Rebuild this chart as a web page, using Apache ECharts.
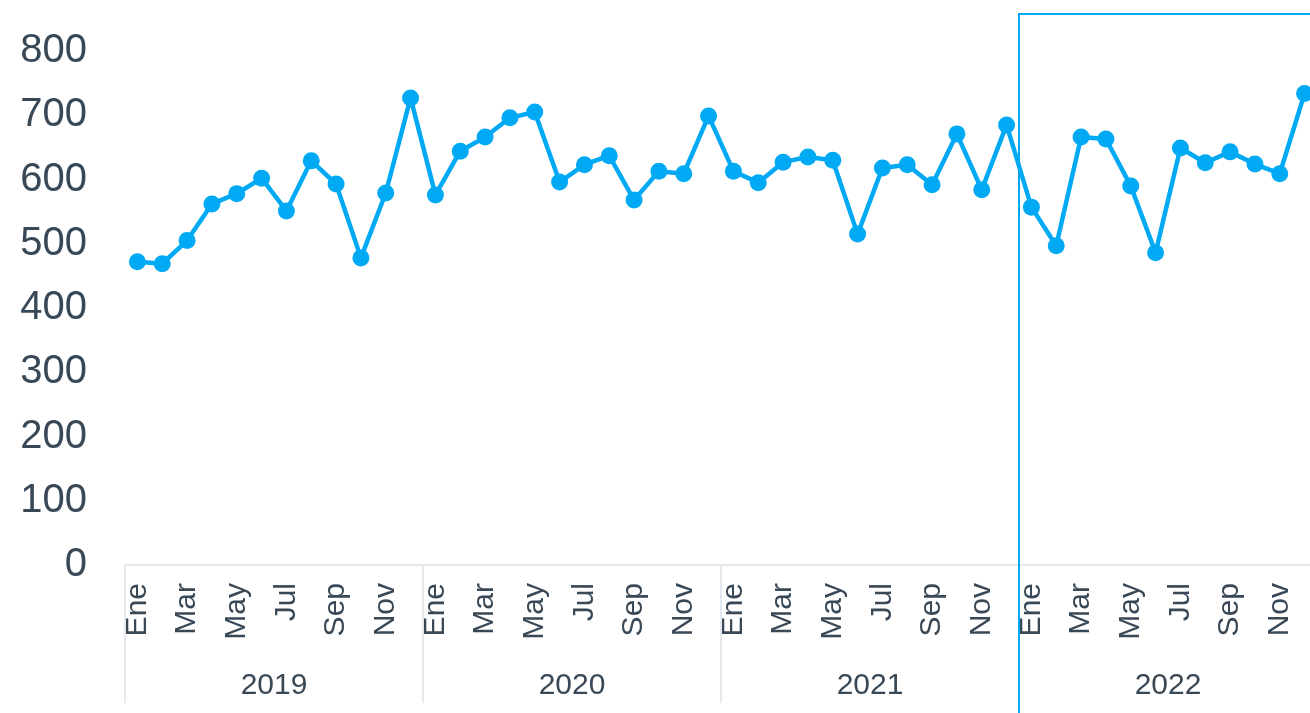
<!DOCTYPE html>
<html>
<head>
<meta charset="utf-8">
<script src="https://cdn.jsdelivr.net/npm/echarts@6/dist/echarts.min.js"></script>
<style>
html,body{margin:0;padding:0;background:#fff;overflow:hidden;width:1310px;height:713px;}
#chart{width:1330px;height:713px;}
</style>
</head>
<body>
<div id="chart"></div>
<script>
const years = ['2019', '2020', '2021', '2022'];
const months = ['Ene', 'Feb', 'Mar', 'Abr', 'May', 'Jun', 'Jul', 'Ago', 'Sep', 'Oct', 'Nov', 'Dic'];
const values2019 = [472, 469, 505, 562, 578, 602, 551, 629, 593, 478, 579, 727];
const values2020 = [576, 644, 666, 696, 705, 596, 623, 637, 568, 613, 609, 699];
const values2021 = [613, 595, 627, 635, 630, 515, 618, 623, 592, 671, 584, 685];
const values2022 = [557, 497, 666, 663, 590, 486, 649, 626, 643, 624, 609, 734];
const yTicks = [0, 100, 200, 300, 400, 500, 600, 700, 800];
const highlightYear = '2022';

const categories = [];
years.forEach(y => months.forEach(m => categories.push(y + '-' + m)));
const values = [].concat(values2019, values2020, values2021, values2022);

const BLUE = '#00A9F4';
const TEXT = '#394856';
const GRIDLINE = '#dde2e7';
const FONT = 'Liberation Sans, Arial, sans-serif';

const chart = echarts.init(document.getElementById('chart'), null, {renderer: 'canvas'});
chart.setOption({
  animation: false,
  backgroundColor: '#ffffff',
  grid: {left: 125, width: 1192, top: 51, height: 514, containLabel: false},
  xAxis: [{
    type: 'category',
    data: categories,
    boundaryGap: true,
    axisLine: {show: true, lineStyle: {color: GRIDLINE, width: 1.5}},
    axisTick: {
      show: true,
      length: 138,
      interval: function (i) { return i % 12 === 0; },
      lineStyle: {color: GRIDLINE, width: 1.5}
    },
    axisLabel: {
      interval: 1,
      rotate: 90,
      margin: 18,
      fontSize: 30,
      fontFamily: FONT,
      color: TEXT,
      formatter: v => v.split('-')[1]
    },
    splitLine: {show: false}
  }, {
    type: 'category',
    data: years,
    position: 'bottom',
    boundaryGap: true,
    axisLine: {show: false},
    axisTick: {show: false},
    axisLabel: {margin: 106, fontSize: 30, fontFamily: FONT, color: TEXT, interval: 0},
    splitLine: {show: false}
  }],
  yAxis: {
    type: 'value',
    min: yTicks[0],
    max: yTicks[yTicks.length - 1],
    interval: 100,
    axisLine: {show: false},
    axisTick: {show: false},
    splitLine: {show: false},
    axisLabel: {margin: 38, fontSize: 40, fontFamily: FONT, color: TEXT}
  },
  series: [{
    type: 'line',
    data: values,
    xAxisIndex: 0,
    symbol: 'circle',
    symbolSize: 17,
    showSymbol: true,
    showAllSymbol: true,
    lineStyle: {color: BLUE, width: 4.5},
    itemStyle: {color: BLUE},
    z: 3
  }]
});

// highlight frame around the selected year, positioned with the axis scale
const startIdx = years.indexOf(highlightYear) * 12;
const c0 = chart.convertToPixel({xAxisIndex: 0}, startIdx);
const c1 = chart.convertToPixel({xAxisIndex: 0}, startIdx + 1);
const band = c1 - c0;
const left = c0 - band / 2;
const gridTop = chart.convertToPixel({yAxisIndex: 0}, yTicks[yTicks.length - 1]);
chart.setOption({
  graphic: [{
    type: 'rect',
    shape: {x: left, y: gridTop - 37, width: 2000, height: 2000},
    style: {fill: 'none', stroke: BLUE, lineWidth: 2},
    z: 1,
    silent: true
  }]
});
</script>
</body>
</html>
